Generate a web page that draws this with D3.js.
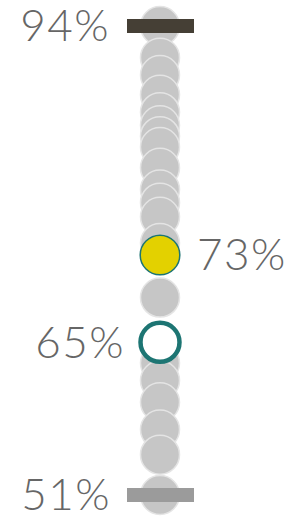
<!DOCTYPE html>
<html>
<head>
<meta charset="utf-8">
<script src="https://cdn.jsdelivr.net/npm/d3@7"></script>
<style>
  html, body { margin: 0; padding: 0; background: #fff; }
  svg { display: block; }
  text { font-family: Lato, "Open Sans", sans-serif; fill: #666; }
</style>
</head>
<body>
<svg id="chart" width="293" height="516"></svg>
<script>
// all values in the group (percent)
const values = [94, 91.1, 89.5, 87.7, 86.1, 84.9, 83.9, 82.9, 81, 79, 77.8, 76.5, 74.1,
  73, 69.1, 65, 63.1, 61.5, 59.5, 57, 54.7, 51];
const maxValue = 94;
const minValue = 51;
const highlight = 73;   // filled marker
const compare = 65;     // hollow marker

const svg = d3.select("#chart");
const cx = 160;

const y = d3.scaleLinear()
  .domain([maxValue, minValue])
  .range([26, 495]);

const fmt = d => `${d}%`;

// grey dots
svg.append("g")
  .selectAll("circle")
  .data(values)
  .join("circle")
  .attr("cx", cx)
  .attr("cy", d => y(d))
  .attr("r", 19.5)
  .attr("fill", "#c6c6c6")
  .attr("stroke", "#e4e4e4")
  .attr("stroke-width", 1.5);

// max / min bars
svg.append("rect")
  .attr("x", 127).attr("width", 67)
  .attr("y", y(maxValue) - 7).attr("height", 14)
  .attr("fill", "#453f35");

svg.append("rect")
  .attr("x", 127).attr("width", 67)
  .attr("y", y(minValue) - 7).attr("height", 14)
  .attr("fill", "#9b9b9b");

// highlight dots
svg.append("circle")
  .attr("cx", cx).attr("cy", y(highlight)).attr("r", 19.8)
  .attr("fill", "#e3d100")
  .attr("stroke", "#1d7573").attr("stroke-width", 1.5);

svg.append("circle")
  .attr("cx", cx).attr("cy", y(compare)).attr("r", 19.5)
  .attr("fill", "#fff")
  .attr("stroke", "#1d7573").attr("stroke-width", 4.5);

// labels
const labels = [
  { v: maxValue, x: 110, anchor: "end" },
  { v: highlight, x: 197, anchor: "start" },
  { v: compare, x: 125, anchor: "end" },
  { v: minValue, x: 111, anchor: "end" }
];

svg.append("g")
  .selectAll("text")
  .data(labels)
  .join("text")
  .attr("x", d => d.x)
  .attr("y", d => y(d.v))
  .attr("dy", "0.35em")
  .attr("text-anchor", d => d.anchor)
  .attr("font-size", 44)
  .attr("font-weight", 300)
  .attr("letter-spacing", 1.5)
  .text(d => fmt(d.v));
</script>
</body>
</html>
